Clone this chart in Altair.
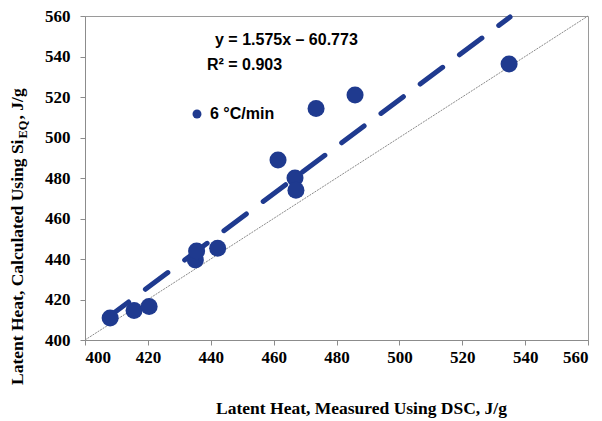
import altair as alt
import pandas as pd

# ---- data ----
measured = [408.0, 415.6, 420.4, 435.1, 435.5, 442.2, 461.4, 466.8, 467.1, 473.5, 485.9, 534.9]
calculated = [410.9, 414.6, 416.5, 439.5, 444.0, 445.3, 488.9, 480.0, 474.0, 514.3, 521.0, 536.3]
series_name = "6 °C/min"

diag_x = [400, 560]
diag_y = [400, 560]

fit_x = [408.0, 535.2]
fit_y = [412.0, 559.5]

tick_vals = [400, 420, 440, 460, 480, 500, 520, 540, 560]

eq_text = "y = 1.575x – 60.773"
r2_text = "R² = 0.903"
x_title = "Latent Heat, Measured Using DSC, J/g"
y_title_main = "Latent Heat, Calculated Using Si"
y_title_sub = "EQ"
y_title_tail = ", J/g"

BLUE = "#1f3a8f"
SERIF = "Liberation Serif"
SANS = "Liberation Sans"

W, H = 503, 324

df = pd.DataFrame({"x": measured, "y": calculated, "series": [series_name] * len(measured)})
df_diag = pd.DataFrame({"x": diag_x, "y": diag_y})
df_fit = pd.DataFrame({"x": fit_x, "y": fit_y})

xscale = alt.Scale(domain=[400, 560], nice=False, zero=False)
yscale = alt.Scale(domain=[400, 560], nice=False, zero=False)

lab = dict(labelFont=SERIF, labelFontWeight="bold", labelFontSize=17, labelColor="black")

diag = alt.Chart(df_diag).mark_line(color="#8a8a8a", strokeWidth=1, strokeDash=[2, 1]).encode(
    x=alt.X("x:Q", scale=xscale,
            axis=alt.Axis(values=tick_vals, title=x_title, titleX=276, titleY=68, titleAlign="center",
                          titleBaseline="middle", labelPadding=4, **lab)),
    y=alt.Y("y:Q", scale=yscale, axis=alt.Axis(values=tick_vals, title=None, labelPadding=10, **lab)),
)

fit = alt.Chart(df_fit).mark_line(color=BLUE, strokeWidth=5, strokeDash=[28, 21],
                                  strokeCap="round", strokeDashOffset=5).encode(
    x=alt.X("x:Q", scale=xscale), y=alt.Y("y:Q", scale=yscale)
)

pts = alt.Chart(df).mark_circle(size=290, opacity=1).encode(
    x=alt.X("x:Q", scale=xscale),
    y=alt.Y("y:Q", scale=yscale),
    color=alt.Color("series:N", scale=alt.Scale(range=[BLUE]),
                    legend=alt.Legend(title=None, orient="none", legendX=102, legendY=88,
                                      symbolSize=80, symbolType="circle", labelFont=SANS,
                                      labelFontWeight="bold", labelFontSize=16, labelColor="black",
                                      labelOffset=5, padding=2, fillColor="white", zindex=1,
                                      labelExpr="datum.label + '\u00a0\u00a0\u00a0\u00a0\u00a0\u00a0\u00a0\u00a0\u00a0\u00a0\u00a0'")),
)

def txt(s, x, y, **kw):
    return alt.Chart(pd.DataFrame({"t": [s]})).mark_text(**kw).encode(
        text="t:N", x=alt.value(x), y=alt.value(y))

eq = txt(eq_text, 130, 24, font=SANS, fontWeight="bold", fontSize=16, align="left", baseline="middle", color="black")
r2 = txt(r2_text, 122, 49, font=SANS, fontWeight="bold", fontSize=16, align="left", baseline="middle", color="black")

yt_base = 369
fs = 17.5
main_len = 14028 * fs / 1000
sub_fs = 12.5
sub_len = 1445 * sub_fs / 1000
yx = -62
yt1 = txt(y_title_main, yx, yt_base, font=SERIF, fontWeight="bold", fontSize=fs, angle=270,
          align="left", baseline="alphabetic", color="black")
yt2 = txt(y_title_sub, yx + 4, yt_base - main_len - 1, font=SERIF, fontWeight="bold", fontSize=sub_fs, angle=270,
          align="left", baseline="alphabetic", color="black")
yt3 = txt(y_title_tail, yx, yt_base - main_len - sub_len - 2, font=SERIF, fontWeight="bold", fontSize=fs,
          angle=270, align="left", baseline="alphabetic", color="black")

chart = alt.layer(diag, fit, pts, eq, r2, yt1, yt2, yt3).properties(
    width=W, height=H,
    background="white",
    autosize=alt.AutoSizeParams(type="none"),
    padding={"left": 77, "top": 8, "right": 6, "bottom": 85},
).configure_view(stroke="#9a9a9a", strokeWidth=1).configure_axis(
    grid=False, domainColor="#8c8c8c", tickColor="#8c8c8c", tickSize=5,
    labelFont=SERIF, labelFontWeight="bold", labelFontSize=17, labelColor="black",
    titleFont=SERIF, titleFontWeight="bold", titleFontSize=17.5, titleColor="black",
)

chart.save("out.html", embed_options={"renderer": "svg", "actions": False})
